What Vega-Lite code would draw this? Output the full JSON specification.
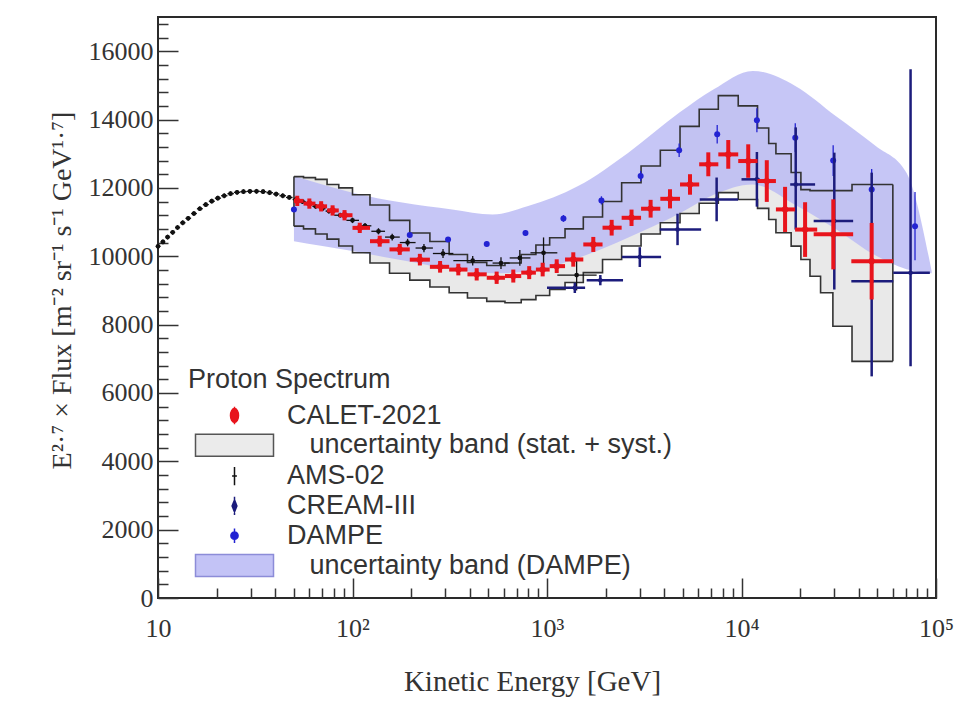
{
  "$schema": "https://vega.github.io/schema/vega-lite/v6.json",
  "width": 778,
  "height": 581,
  "autosize": {"type": "none"},
  "padding": {"left": 158, "top": 17, "right": 39, "bottom": 111},
  "background": "white",
  "config": {
    "view": {"stroke": "#2a2a2a", "strokeWidth": 2},
    "axis": {"grid": false, "domain": false}
  },
  "datasets": {
    "caletband": [
      {"E": 50, "lo": 10880, "hi": 12330},
      {"E": 56, "lo": 10800, "hi": 12300},
      {"E": 64.5, "lo": 10650, "hi": 12250},
      {"E": 74, "lo": 10500, "hi": 12100},
      {"E": 85, "lo": 10300, "hi": 12000},
      {"E": 100, "lo": 10100, "hi": 11800},
      {"E": 123, "lo": 9800, "hi": 11500},
      {"E": 155, "lo": 9500, "hi": 11050},
      {"E": 197, "lo": 9300, "hi": 10680},
      {"E": 250, "lo": 9100, "hi": 10430},
      {"E": 314, "lo": 8930, "hi": 10050},
      {"E": 390, "lo": 8780, "hi": 9820},
      {"E": 490, "lo": 8680, "hi": 9730},
      {"E": 608, "lo": 8640, "hi": 9800},
      {"E": 737, "lo": 8730, "hi": 10050},
      {"E": 877, "lo": 8850, "hi": 10330},
      {"E": 1032, "lo": 9030, "hi": 10540},
      {"E": 1238, "lo": 9230, "hi": 10800},
      {"E": 1537, "lo": 9520, "hi": 11150},
      {"E": 1930, "lo": 9905, "hi": 11600},
      {"E": 2420, "lo": 10300, "hi": 12150},
      {"E": 3045, "lo": 10650, "hi": 12640},
      {"E": 3825, "lo": 10980, "hi": 13100},
      {"E": 4830, "lo": 11250, "hi": 13800},
      {"E": 6060, "lo": 11550, "hi": 14300},
      {"E": 7600, "lo": 11860, "hi": 14700},
      {"E": 9620, "lo": 11660, "hi": 14400},
      {"E": 12090, "lo": 11400, "hi": 13750},
      {"E": 13800, "lo": 11077, "hi": 13300},
      {"E": 15030, "lo": 10686, "hi": 13000},
      {"E": 18000, "lo": 10295, "hi": 12450},
      {"E": 20200, "lo": 9905, "hi": 11950},
      {"E": 22500, "lo": 9416, "hi": 11920},
      {"E": 25500, "lo": 8930, "hi": 11920},
      {"E": 29500, "lo": 7950, "hi": 11920},
      {"E": 37000, "lo": 6925, "hi": 12100},
      {"E": 60000, "lo": 6925, "hi": 12100}
    ],
    "caletedges": [
      {"E": 50, "lo": 10880, "hi": 12330},
      {"E": 60000, "lo": 6925, "hi": 12100}
    ],
    "dampeband": [
      {"E": 50, "lo": 10440, "hi": 12350},
      {"E": 70, "lo": 10300, "hi": 12100},
      {"E": 100, "lo": 10150, "hi": 11860},
      {"E": 180, "lo": 9880, "hi": 11570},
      {"E": 325, "lo": 9620, "hi": 11370},
      {"E": 526, "lo": 9500, "hi": 11224},
      {"E": 800, "lo": 9550, "hi": 11467},
      {"E": 1445, "lo": 9950, "hi": 12053},
      {"E": 2620, "lo": 10550, "hi": 13031},
      {"E": 4795, "lo": 11250, "hi": 14203},
      {"E": 7200, "lo": 11800, "hi": 14886},
      {"E": 11420, "lo": 12100, "hi": 15423},
      {"E": 18900, "lo": 11500, "hi": 14984},
      {"E": 30500, "lo": 10800, "hi": 14104},
      {"E": 49000, "lo": 10020, "hi": 13225},
      {"E": 70500, "lo": 9620, "hi": 12445},
      {"E": 95000, "lo": 9500, "hi": 9560}
    ],
    "ams": [
      {"E": 10.0, "v": 10290, "elo": 9.75, "ehi": 10.3, "vlo": 10220, "vhi": 10360},
      {"E": 10.6, "v": 10420, "elo": 10.3, "ehi": 10.9, "vlo": 10350, "vhi": 10490},
      {"E": 11.2, "v": 10560, "elo": 10.9, "ehi": 11.55, "vlo": 10490, "vhi": 10630},
      {"E": 11.9, "v": 10700, "elo": 11.55, "ehi": 12.25, "vlo": 10630, "vhi": 10770},
      {"E": 12.6, "v": 10840, "elo": 12.25, "ehi": 13.0, "vlo": 10770, "vhi": 10910},
      {"E": 13.4, "v": 10980, "elo": 13.0, "ehi": 13.85, "vlo": 10910, "vhi": 11050},
      {"E": 14.3, "v": 11110, "elo": 13.85, "ehi": 14.8, "vlo": 11040, "vhi": 11180},
      {"E": 15.3, "v": 11250, "elo": 14.8, "ehi": 15.85, "vlo": 11180, "vhi": 11320},
      {"E": 16.4, "v": 11390, "elo": 15.85, "ehi": 17.0, "vlo": 11320, "vhi": 11460},
      {"E": 17.6, "v": 11510, "elo": 17.0, "ehi": 18.25, "vlo": 11440, "vhi": 11580},
      {"E": 18.9, "v": 11610, "elo": 18.25, "ehi": 19.6, "vlo": 11540, "vhi": 11680},
      {"E": 20.3, "v": 11700, "elo": 19.6, "ehi": 21.1, "vlo": 11630, "vhi": 11770},
      {"E": 21.9, "v": 11770, "elo": 21.1, "ehi": 22.75, "vlo": 11700, "vhi": 11840},
      {"E": 23.6, "v": 11830, "elo": 22.75, "ehi": 24.55, "vlo": 11760, "vhi": 11900},
      {"E": 25.5, "v": 11870, "elo": 24.55, "ehi": 26.5, "vlo": 11800, "vhi": 11940},
      {"E": 27.5, "v": 11890, "elo": 26.5, "ehi": 28.6, "vlo": 11820, "vhi": 11960},
      {"E": 29.7, "v": 11900, "elo": 28.6, "ehi": 30.9, "vlo": 11830, "vhi": 11970},
      {"E": 32.1, "v": 11900, "elo": 30.9, "ehi": 33.4, "vlo": 11830, "vhi": 11970},
      {"E": 34.7, "v": 11890, "elo": 33.4, "ehi": 36.1, "vlo": 11820, "vhi": 11960},
      {"E": 37.5, "v": 11860, "elo": 36.1, "ehi": 39.0, "vlo": 11790, "vhi": 11930},
      {"E": 40.5, "v": 11820, "elo": 39.0, "ehi": 42.1, "vlo": 11750, "vhi": 11890},
      {"E": 43.8, "v": 11770, "elo": 42.1, "ehi": 45.5, "vlo": 11700, "vhi": 11840},
      {"E": 47.3, "v": 11720, "elo": 45.5, "ehi": 49.2, "vlo": 11650, "vhi": 11790},
      {"E": 51.1, "v": 11660, "elo": 49.2, "ehi": 53.2, "vlo": 11590, "vhi": 11730},
      {"E": 55.3, "v": 11600, "elo": 53.2, "ehi": 57.5, "vlo": 11530, "vhi": 11670},
      {"E": 59.8, "v": 11530, "elo": 57.5, "ehi": 62.2, "vlo": 11460, "vhi": 11600},
      {"E": 64.6, "v": 11460, "elo": 62.2, "ehi": 67.2, "vlo": 11390, "vhi": 11530},
      {"E": 69.9, "v": 11390, "elo": 67.2, "ehi": 72.7, "vlo": 11320, "vhi": 11460},
      {"E": 75.6, "v": 11320, "elo": 72.7, "ehi": 78.6, "vlo": 11250, "vhi": 11390},
      {"E": 86.5, "v": 11200, "elo": 80.5, "ehi": 93, "vlo": 11130, "vhi": 11270},
      {"E": 100, "v": 11050, "elo": 93, "ehi": 108, "vlo": 10970, "vhi": 11130},
      {"E": 116, "v": 10890, "elo": 108, "ehi": 125, "vlo": 10810, "vhi": 10970},
      {"E": 136, "v": 10730, "elo": 125, "ehi": 147, "vlo": 10640, "vhi": 10820},
      {"E": 160, "v": 10560, "elo": 147, "ehi": 175, "vlo": 10460, "vhi": 10660},
      {"E": 192, "v": 10400, "elo": 175, "ehi": 211, "vlo": 10290, "vhi": 10510},
      {"E": 233, "v": 10240, "elo": 211, "ehi": 259, "vlo": 10120, "vhi": 10360},
      {"E": 292, "v": 10080, "elo": 259, "ehi": 330, "vlo": 9950, "vhi": 10210},
      {"E": 415, "v": 9870, "elo": 330, "ehi": 525, "vlo": 9730, "vhi": 10010},
      {"E": 580, "v": 9800, "elo": 525, "ehi": 643, "vlo": 9630, "vhi": 9970},
      {"E": 725, "v": 9950, "elo": 643, "ehi": 822, "vlo": 9720, "vhi": 10180},
      {"E": 960, "v": 10100, "elo": 822, "ehi": 1130, "vlo": 9650, "vhi": 10550},
      {"E": 1420, "v": 9450, "elo": 1130, "ehi": 1800, "vlo": 9000, "vhi": 9900}
    ],
    "dampe": [
      {"E": 50, "v": 11370, "vlo": 11320, "vhi": 11420},
      {"E": 197, "v": 10620, "vlo": 10560, "vhi": 10680},
      {"E": 310, "v": 10490, "vlo": 10430, "vhi": 10550},
      {"E": 490, "v": 10360, "vlo": 10290, "vhi": 10430},
      {"E": 775, "v": 10680, "vlo": 10600, "vhi": 10760},
      {"E": 1215, "v": 11106, "vlo": 11006, "vhi": 11206},
      {"E": 1905, "v": 11634, "vlo": 11514, "vhi": 11754},
      {"E": 3030, "v": 12346, "vlo": 12196, "vhi": 12496},
      {"E": 4780, "v": 13100, "vlo": 12900, "vhi": 13300},
      {"E": 7500, "v": 13568, "vlo": 13298, "vhi": 13838},
      {"E": 12000, "v": 13980, "vlo": 13630, "vhi": 14330},
      {"E": 18900, "v": 13470, "vlo": 13050, "vhi": 13890},
      {"E": 29600, "v": 12800, "vlo": 12350, "vhi": 13250},
      {"E": 46700, "v": 11956, "vlo": 11356, "vhi": 12556},
      {"E": 78000, "v": 10880, "vlo": 9880, "vhi": 11880}
    ],
    "cream": [
      {"E": 1390, "v": 9075, "elo": 1000, "ehi": 1570, "vlo": 8925, "vhi": 9225},
      {"E": 1880, "v": 9300, "elo": 1600, "ehi": 2460, "vlo": 9150, "vhi": 9450},
      {"E": 3000, "v": 9975, "elo": 2430, "ehi": 3860, "vlo": 9685, "vhi": 10265},
      {"E": 4690, "v": 10784, "elo": 3800, "ehi": 6200, "vlo": 10324, "vhi": 11244},
      {"E": 7450, "v": 11663, "elo": 6100, "ehi": 9600, "vlo": 11023, "vhi": 12303},
      {"E": 12000, "v": 12250, "elo": 10000, "ehi": 12400, "vlo": 11450, "vhi": 13050},
      {"E": 19000, "v": 12100, "elo": 17800, "ehi": 23900, "vlo": 10780, "vhi": 13770},
      {"E": 30000, "v": 11030, "elo": 23500, "ehi": 37500, "vlo": 9026, "vhi": 13031},
      {"E": 46700, "v": 9270, "elo": 36700, "ehi": 60300, "vlo": 6485, "vhi": 12445},
      {"E": 74000, "v": 9515, "elo": 60300, "ehi": 93000, "vlo": 6780, "vhi": 15473}
    ],
    "calet": [
      {"E": 52, "v": 11620, "elo": 50, "ehi": 56, "vlo": 11470, "vhi": 11770},
      {"E": 60, "v": 11540, "elo": 56, "ehi": 64.5, "vlo": 11390, "vhi": 11690},
      {"E": 69, "v": 11460, "elo": 64.5, "ehi": 74, "vlo": 11310, "vhi": 11610},
      {"E": 79, "v": 11340, "elo": 74, "ehi": 85, "vlo": 11190, "vhi": 11490},
      {"E": 91, "v": 11200, "elo": 85, "ehi": 100, "vlo": 11050, "vhi": 11350},
      {"E": 109, "v": 10830, "elo": 100, "ehi": 123, "vlo": 10680, "vhi": 10980},
      {"E": 138, "v": 10440, "elo": 123, "ehi": 155, "vlo": 10280, "vhi": 10600},
      {"E": 175, "v": 10200, "elo": 155, "ehi": 197, "vlo": 10040, "vhi": 10360},
      {"E": 222, "v": 9900, "elo": 197, "ehi": 250, "vlo": 9730, "vhi": 10070},
      {"E": 282, "v": 9690, "elo": 250, "ehi": 314, "vlo": 9520, "vhi": 9860},
      {"E": 350, "v": 9610, "elo": 314, "ehi": 390, "vlo": 9440, "vhi": 9780},
      {"E": 435, "v": 9470, "elo": 390, "ehi": 490, "vlo": 9290, "vhi": 9650},
      {"E": 551, "v": 9370, "elo": 490, "ehi": 608, "vlo": 9190, "vhi": 9550},
      {"E": 671, "v": 9420, "elo": 608, "ehi": 737, "vlo": 9230, "vhi": 9610},
      {"E": 810, "v": 9520, "elo": 737, "ehi": 877, "vlo": 9330, "vhi": 9710},
      {"E": 950, "v": 9610, "elo": 877, "ehi": 1032, "vlo": 9410, "vhi": 9810},
      {"E": 1122, "v": 9710, "elo": 1032, "ehi": 1238, "vlo": 9510, "vhi": 9910},
      {"E": 1365, "v": 9905, "elo": 1238, "ehi": 1537, "vlo": 9695, "vhi": 10115},
      {"E": 1730, "v": 10345, "elo": 1537, "ehi": 1930, "vlo": 10125, "vhi": 10565},
      {"E": 2150, "v": 10835, "elo": 1930, "ehi": 2420, "vlo": 10605, "vhi": 11065},
      {"E": 2720, "v": 11125, "elo": 2420, "ehi": 3045, "vlo": 10885, "vhi": 11365},
      {"E": 3410, "v": 11390, "elo": 3045, "ehi": 3825, "vlo": 11130, "vhi": 11650},
      {"E": 4290, "v": 11680, "elo": 3825, "ehi": 4830, "vlo": 11400, "vhi": 11960},
      {"E": 5435, "v": 12100, "elo": 4830, "ehi": 6060, "vlo": 11800, "vhi": 12400},
      {"E": 6750, "v": 12690, "elo": 6060, "ehi": 7600, "vlo": 12340, "vhi": 13040},
      {"E": 8550, "v": 12980, "elo": 7600, "ehi": 9620, "vlo": 12560, "vhi": 13400},
      {"E": 10830, "v": 12785, "elo": 9620, "ehi": 12090, "vlo": 12295, "vhi": 13275},
      {"E": 13490, "v": 12200, "elo": 12090, "ehi": 15030, "vlo": 11590, "vhi": 12810},
      {"E": 16750, "v": 11370, "elo": 15030, "ehi": 18860, "vlo": 10710, "vhi": 12030},
      {"E": 21230, "v": 10780, "elo": 18860, "ehi": 24500, "vlo": 9980, "vhi": 11580},
      {"E": 29650, "v": 10640, "elo": 23500, "ehi": 37500, "vlo": 9615, "vhi": 11665},
      {"E": 46690, "v": 9855, "elo": 36700, "ehi": 60300, "vlo": 8735, "vhi": 10975}
    ]
  },
  "resolve": {"axis": {"x": "independent", "y": "independent"}},
  "layer": [
    {
      "data": {"name": "caletband"},
      "mark": {"type": "area", "interpolate": "step-after", "color": "#e9e9e9"},
      "encoding": {
        "x": {"field": "E", "type": "quantitative", "scale": {"type": "log", "domain": [10, 100000], "nice": false},
          "axis": {"orient": "bottom", "values": [10, 100, 1000, 10000, 100000],
            "labelExpr": "datum.value == 10 ? '10' : datum.value == 100 ? '10²' : datum.value == 1000 ? '10³' : datum.value == 10000 ? '10⁴' : '10⁵'",
            "tickSize": -20, "tickWidth": 1.5, "tickColor": "#333",
            "labelFont": "Liberation Serif", "labelFontSize": 26, "labelColor": "#333", "labelPadding": 37,
            "labelFlush": false, "labelOverlap": false,
            "title": "Kinetic Energy [GeV]", "titleFont": "Liberation Serif", "titleFontSize": 29, "titleFontWeight": "normal",
            "titleColor": "#333", "titleX": 374, "titleY": 92, "titleAlign": "center", "titleBaseline": "alphabetic"}},
        "y": {"field": "lo", "type": "quantitative", "scale": {"domain": [0, 17000], "nice": false, "zero": false},
          "axis": {"orient": "left", "values": [0, 2000, 4000, 6000, 8000, 10000, 12000, 14000, 16000], "format": "d",
            "tickSize": -20, "tickWidth": 1.5, "tickColor": "#333",
            "labelFont": "Liberation Serif", "labelFontSize": 26, "labelColor": "#333", "labelPadding": 25,
            "labelFlush": false, "labelOverlap": false,
            "title": "E²·⁷ × Flux [m⁻² sr⁻¹ s⁻¹ GeV¹·⁷]", "titleFont": "Liberation Serif", "titleFontSize": 28, "titleFontWeight": "normal",
            "titleColor": "#333", "titleX": -96, "titleY": 273, "titleAngle": -90, "titleAlign": "center", "titleBaseline": "middle"}},
        "y2": {"field": "hi"}
      }
    },
    {
      "data": {"name": "dampeband"},
      "mark": {"type": "area", "interpolate": "monotone", "color": "#b9b9f4", "opacity": 0.82},
      "encoding": {
        "x": {"field": "E", "type": "quantitative", "scale": {"type": "log", "domain": [10, 100000], "nice": false},
          "axis": {"orient": "bottom", "values": [20, 30, 40, 50, 60, 70, 80, 90, 200, 300, 400, 500, 600, 700, 800, 900, 2000, 3000, 4000, 5000, 6000, 7000, 8000, 9000, 20000, 30000, 40000, 50000, 60000, 70000, 80000, 90000],
            "tickSize": -10, "tickWidth": 1.5, "tickColor": "#333", "labels": false, "title": null}},
        "y": {"field": "lo", "type": "quantitative", "scale": {"domain": [0, 17000], "nice": false, "zero": false},
          "axis": {"orient": "left", "values": [400, 800, 1200, 1600, 2400, 2800, 3200, 3600, 4400, 4800, 5200, 5600, 6400, 6800, 7200, 7600, 8400, 8800, 9200, 9600, 10400, 10800, 11200, 11600, 12400, 12800, 13200, 13600, 14400, 14800, 15200, 15600, 16400, 16800],
            "tickSize": -10, "tickWidth": 1.5, "tickColor": "#333", "labels": false, "title": null}},
        "y2": {"field": "hi"}
      }
    },
    {
      "data": {"name": "caletband"},
      "mark": {"type": "line", "interpolate": "step-after", "color": "#333", "strokeWidth": 1.6},
      "encoding": {
        "x": {"field": "E", "type": "quantitative", "scale": {"type": "log", "domain": [10, 100000], "nice": false}, "axis": null},
        "y": {"field": "hi", "type": "quantitative", "scale": {"domain": [0, 17000], "nice": false, "zero": false}, "axis": null}
      }
    },
    {
      "data": {"name": "caletband"},
      "mark": {"type": "line", "interpolate": "step-after", "color": "#333", "strokeWidth": 1.6},
      "encoding": {
        "x": {"field": "E", "type": "quantitative", "scale": {"type": "log", "domain": [10, 100000], "nice": false}, "axis": null},
        "y": {"field": "lo", "type": "quantitative", "scale": {"domain": [0, 17000], "nice": false, "zero": false}, "axis": null}
      }
    },
    {
      "data": {"name": "caletedges"},
      "mark": {"type": "rule", "color": "#333", "strokeWidth": 1.6},
      "encoding": {
        "x": {"field": "E", "type": "quantitative", "scale": {"type": "log", "domain": [10, 100000], "nice": false}, "axis": null},
        "y": {"field": "lo", "type": "quantitative", "scale": {"domain": [0, 17000], "nice": false, "zero": false}, "axis": null},
        "y2": {"field": "hi"}
      }
    },
    {
      "data": {"name": "ams"},
      "mark": {"type": "rule", "color": "#111", "strokeWidth": 1.3},
      "encoding": {
        "x": {"field": "elo", "type": "quantitative", "scale": {"type": "log", "domain": [10, 100000], "nice": false}, "axis": null},
        "x2": {"field": "ehi"},
        "y": {"field": "v", "type": "quantitative", "scale": {"domain": [0, 17000], "nice": false, "zero": false}, "axis": null}
      }
    },
    {
      "data": {"name": "ams"},
      "mark": {"type": "rule", "color": "#111", "strokeWidth": 1.3},
      "encoding": {
        "x": {"field": "E", "type": "quantitative", "scale": {"type": "log", "domain": [10, 100000], "nice": false}, "axis": null},
        "y": {"field": "vlo", "type": "quantitative", "scale": {"domain": [0, 17000], "nice": false, "zero": false}, "axis": null},
        "y2": {"field": "vhi"}
      }
    },
    {
      "data": {"name": "ams"},
      "mark": {"type": "circle", "color": "#111", "size": 22, "opacity": 1},
      "encoding": {
        "x": {"field": "E", "type": "quantitative", "scale": {"type": "log", "domain": [10, 100000], "nice": false}, "axis": null},
        "y": {"field": "v", "type": "quantitative", "scale": {"domain": [0, 17000], "nice": false, "zero": false}, "axis": null}
      }
    },
    {
      "data": {"name": "dampe"},
      "mark": {"type": "rule", "color": "#2323d2", "strokeWidth": 1.3},
      "encoding": {
        "x": {"field": "E", "type": "quantitative", "scale": {"type": "log", "domain": [10, 100000], "nice": false}, "axis": null},
        "y": {"field": "vlo", "type": "quantitative", "scale": {"domain": [0, 17000], "nice": false, "zero": false}, "axis": null},
        "y2": {"field": "vhi"}
      }
    },
    {
      "data": {"name": "dampe"},
      "mark": {"type": "circle", "color": "#2323d2", "size": 36, "opacity": 1},
      "encoding": {
        "x": {"field": "E", "type": "quantitative", "scale": {"type": "log", "domain": [10, 100000], "nice": false}, "axis": null},
        "y": {"field": "v", "type": "quantitative", "scale": {"domain": [0, 17000], "nice": false, "zero": false}, "axis": null}
      }
    },
    {
      "data": {"name": "cream"},
      "mark": {"type": "rule", "color": "#1c1c7c", "strokeWidth": 2.5},
      "encoding": {
        "x": {"field": "elo", "type": "quantitative", "scale": {"type": "log", "domain": [10, 100000], "nice": false}, "axis": null},
        "x2": {"field": "ehi"},
        "y": {"field": "v", "type": "quantitative", "scale": {"domain": [0, 17000], "nice": false, "zero": false}, "axis": null}
      }
    },
    {
      "data": {"name": "cream"},
      "mark": {"type": "rule", "color": "#1c1c7c", "strokeWidth": 2.5},
      "encoding": {
        "x": {"field": "E", "type": "quantitative", "scale": {"type": "log", "domain": [10, 100000], "nice": false}, "axis": null},
        "y": {"field": "vlo", "type": "quantitative", "scale": {"domain": [0, 17000], "nice": false, "zero": false}, "axis": null},
        "y2": {"field": "vhi"}
      }
    },
    {
      "data": {"name": "cream"},
      "mark": {"type": "circle", "color": "#1c1c7c", "size": 20, "opacity": 1},
      "encoding": {
        "x": {"field": "E", "type": "quantitative", "scale": {"type": "log", "domain": [10, 100000], "nice": false}, "axis": null},
        "y": {"field": "v", "type": "quantitative", "scale": {"domain": [0, 17000], "nice": false, "zero": false}, "axis": null}
      }
    },
    {
      "data": {"name": "calet"},
      "mark": {"type": "rule", "color": "#e8141c", "strokeWidth": 4},
      "encoding": {
        "x": {"field": "elo", "type": "quantitative", "scale": {"type": "log", "domain": [10, 100000], "nice": false}, "axis": null},
        "x2": {"field": "ehi"},
        "y": {"field": "v", "type": "quantitative", "scale": {"domain": [0, 17000], "nice": false, "zero": false}, "axis": null}
      }
    },
    {
      "data": {"name": "calet"},
      "mark": {"type": "rule", "color": "#e8141c", "strokeWidth": 4},
      "encoding": {
        "x": {"field": "E", "type": "quantitative", "scale": {"type": "log", "domain": [10, 100000], "nice": false}, "axis": null},
        "y": {"field": "vlo", "type": "quantitative", "scale": {"domain": [0, 17000], "nice": false, "zero": false}, "axis": null},
        "y2": {"field": "vhi"}
      }
    },
    {
      "data": {"name": "calet"},
      "mark": {"type": "circle", "color": "#e8141c", "size": 40, "opacity": 1},
      "encoding": {
        "x": {"field": "E", "type": "quantitative", "scale": {"type": "log", "domain": [10, 100000], "nice": false}, "axis": null},
        "y": {"field": "v", "type": "quantitative", "scale": {"domain": [0, 17000], "nice": false, "zero": false}, "axis": null}
      }
    },
    {
      "data": {"values": []},
      "mark": {"type": "point", "filled": true, "opacity": 1},
      "encoding": {
        "fill": {"field": "series", "type": "nominal",
          "scale": {"domain": ["CALET-2021", "\u200b\u00a0\u00a0\u00a0uncertainty band (stat. + syst.)", "AMS-02", "CREAM-III", "DAMPE", "\u200b\u00a0\u00a0\u00a0uncertainty band (DAMPE)"],
            "range": ["#e8141c", "#ebebeb", "#111111", "#1c1c7c", "#2323d2", "#c3c3f6"]},
          "legend": {"title": "Proton Spectrum", "orient": "none", "legendX": 30, "legendY": 350,
            "titleFont": "Liberation Sans", "titleFontSize": 27, "titleFontWeight": "normal", "titleColor": "#333", "titlePadding": 8, "titleLimit": 700,
            "labelFont": "Liberation Sans", "labelFontSize": 27, "labelColor": "#333", "labelLimit": 700,
            "symbolSize": 64, "symbolStrokeWidth": 1.5, "rowPadding": 1.8, "symbolOffset": 33, "labelOffset": 39, "padding": 0}},
        "stroke": {"field": "series", "type": "nominal",
          "scale": {"domain": ["CALET-2021", "\u200b\u00a0\u00a0\u00a0uncertainty band (stat. + syst.)", "AMS-02", "CREAM-III", "DAMPE", "\u200b\u00a0\u00a0\u00a0uncertainty band (DAMPE)"],
            "range": ["#e8141c", "#555555", "#111111", "#1c1c7c", "#2323d2", "#8c8cd8"]},
          "legend": {"title": "Proton Spectrum", "orient": "none", "legendX": 30, "legendY": 350,
            "titleFont": "Liberation Sans", "titleFontSize": 27, "titleFontWeight": "normal", "titleColor": "#333", "titlePadding": 8, "titleLimit": 700,
            "labelFont": "Liberation Sans", "labelFontSize": 27, "labelColor": "#333", "labelLimit": 700,
            "symbolSize": 64, "symbolStrokeWidth": 1.5, "rowPadding": 1.8, "symbolOffset": 33, "labelOffset": 39, "padding": 0}},
        "shape": {"field": "series", "type": "nominal",
          "scale": {"domain": ["CALET-2021", "\u200b\u00a0\u00a0\u00a0uncertainty band (stat. + syst.)", "AMS-02", "CREAM-III", "DAMPE", "\u200b\u00a0\u00a0\u00a0uncertainty band (DAMPE)"],
            "range": ["M0,-1.75A1,1.75 0 1,1 0,1.75A1,1.75 0 1,1 0,-1.75ZM0,-2.2V2.2", "M-9.75,-2.75H9.75V2.75H-9.75Z", "M0,-2.3V2.3M-0.6,0H0.6", "M0,-1.5L0.6,0L0,1.5L-0.6,0ZM0,-2.3V2.3", "M0.9,0A0.9,0.9 0 1,1 -0.9,0A0.9,0.9 0 1,1 0.9,0ZM0,-1.8V1.8", "M-9.75,-2.75H9.75V2.75H-9.75Z"]},
          "legend": {"title": "Proton Spectrum", "orient": "none", "legendX": 30, "legendY": 350,
            "titleFont": "Liberation Sans", "titleFontSize": 27, "titleFontWeight": "normal", "titleColor": "#333", "titlePadding": 8, "titleLimit": 700,
            "labelFont": "Liberation Sans", "labelFontSize": 27, "labelColor": "#333", "labelLimit": 700,
            "symbolSize": 64, "symbolStrokeWidth": 1.5, "rowPadding": 1.8, "symbolOffset": 33, "labelOffset": 39, "padding": 0}}
      }
    }
  ]
}
